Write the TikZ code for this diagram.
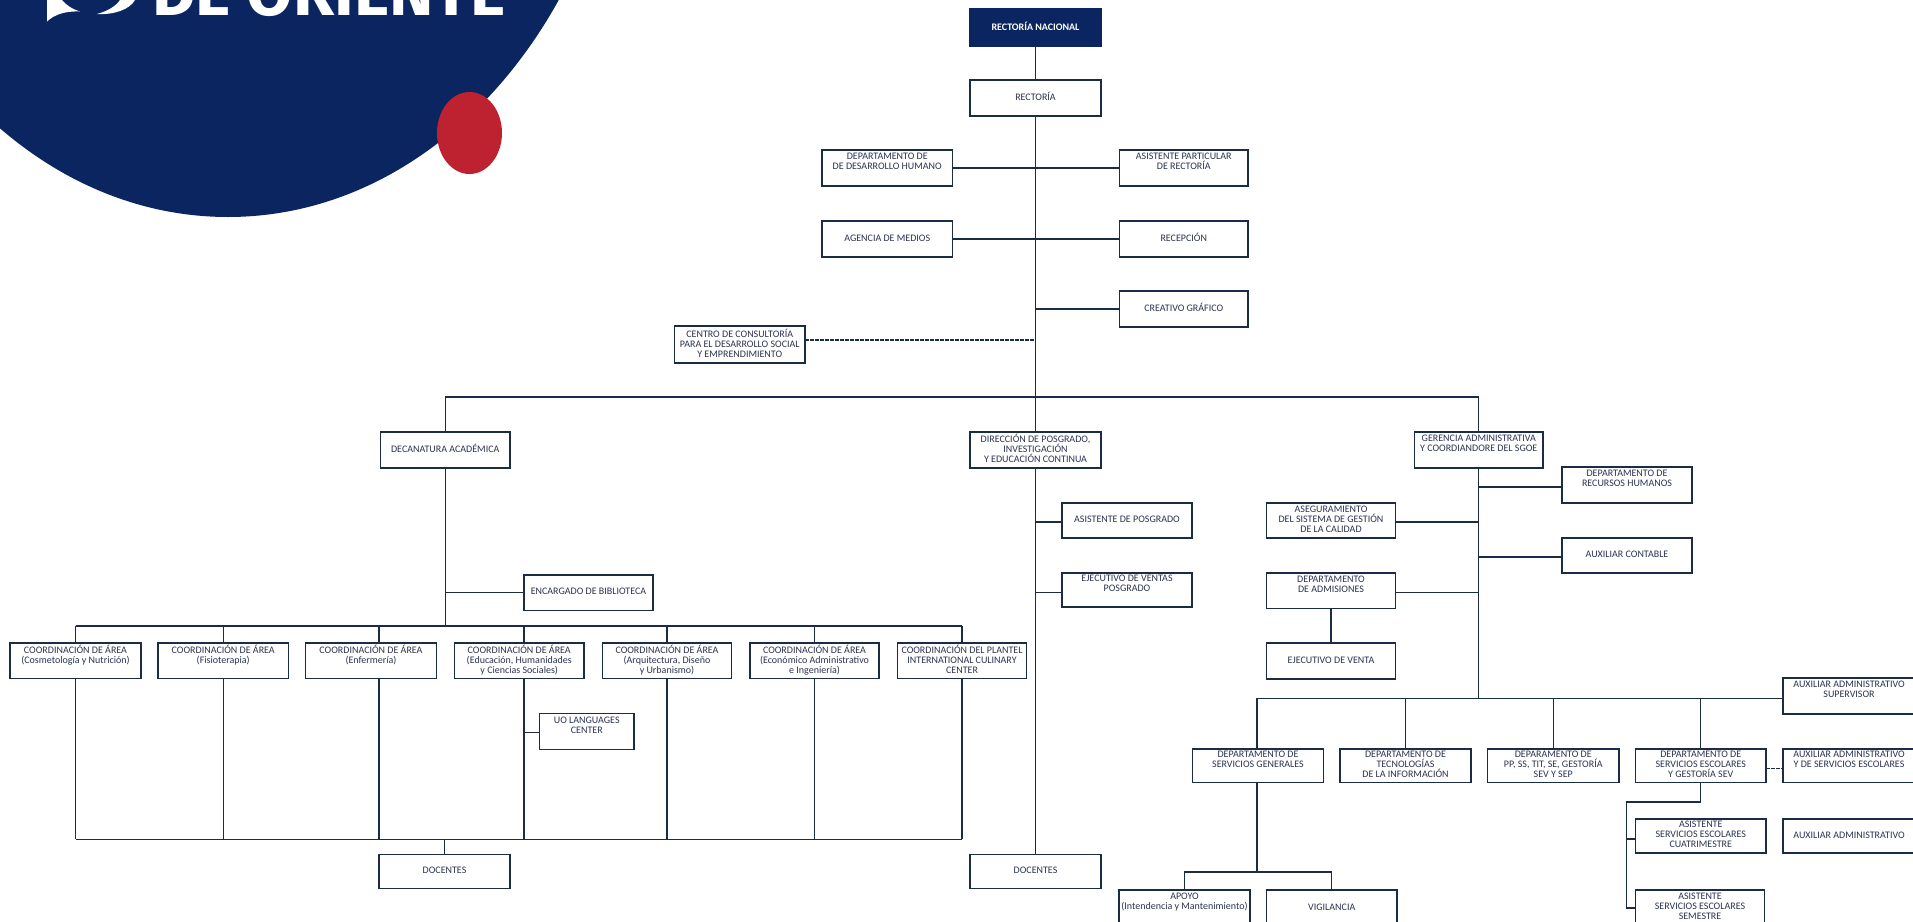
\documentclass[tikz,border=0pt]{standalone}
\usepackage{fontspec}
\setmainfont{Carlito}
\newfontfamily\logofont{Fira Sans}
\definecolor{navy}{HTML}{0B2560}
\definecolor{redlogo}{HTML}{BE2230}
\definecolor{linec}{HTML}{1C2C44}
\definecolor{textc}{HTML}{2B3350}
\tikzset{
  boxn/.style={draw=linec,line width=1.2pt,fill=white,rectangle,inner sep=0pt,outer sep=0pt,align=center,
    text=textc,font=\fontsize{10}{10}\selectfont,execute at begin node=\strut,execute at end node=\strut},
  headn/.style={boxn,draw=navy,fill=navy,text=white,font=\fontsize{10}{10}\selectfont\bfseries},
  conn/.style={draw=linec,line width=1.2pt},
  dashc/.style={draw=linec,line width=1.3pt,dashed,dash pattern=on 3.5pt off 1.5pt}
}
\newcommand\bx[6][boxn]{\node[#1,minimum width={(#4-#2)*1pt},minimum height={(#5-#3)*1pt}] (#6) at ({(#2+#4)/2},{(#3+#5)/2})}
\begin{document}
\begin{tikzpicture}[x=1pt,y=-1pt]
\path[use as bounding box] (0,0) rectangle (1913,921);
\clip (0,0) rectangle (1913,921);
% logo
\fill[navy] (228,-286) ellipse [x radius=402, y radius=503];
\fill[redlogo] (469.5,133) ellipse [x radius=32.5, y radius=41];
\fill[white] (47,0) -- (47,21.5) .. controls (55,14) and (66,11) .. (80,11.5) .. controls (72,9) and (66,5) .. (62,0) -- cycle;
\fill[white] (135,0) .. controls (130,9) and (115,15) .. (97,14) .. controls (108,11) and (116,6) .. (120,0) -- cycle;
\node[anchor=base west,inner sep=0pt,text=white,font=\logofont\bfseries\fontsize{67}{70}\selectfont] (logotext) at (152,15) {DE ORIENTE};
% boxes
\bx[headn]{970}{9}{1101}{46}{rn}{RECTORÍA NACIONAL};
\bx{970}{80}{1101}{116}{r}{RECTORÍA};
\bx{822}{150}{952.5}{186}{dh}{DEPARTAMENTO DE\\DE DESARROLLO HUMANO\\ };
\bx{1119.5}{150}{1248}{186}{ap1}{ASISTENTE PARTICULAR\\DE RECTORÍA\\ };
\bx{822}{221}{952.5}{257}{am}{AGENCIA DE MEDIOS};
\bx{1119.5}{221}{1248}{257}{rec}{RECEPCIÓN};
\bx{1119.5}{291}{1248}{327}{cg}{CREATIVO GRÁFICO};
\bx{674.5}{326}{805}{363}{cc}{CENTRO DE CONSULTORÍA\\PARA EL DESARROLLO SOCIAL\\Y EMPRENDIMIENTO};
\bx{380.5}{432}{510}{468}{dec}{DECANATURA ACADÉMICA};
\bx{970}{432}{1101}{468}{dp}{DIRECCIÓN DE POSGRADO,\\INVESTIGACIÓN\\Y EDUCACIÓN CONTINUA};
\bx{1414.5}{432}{1543}{468}{ger}{GERENCIA ADMINISTRATIVA\\Y COORDIANDORE DEL SGOE\\ };
\bx{1562}{467}{1692}{503}{rh}{DEPARTAMENTO DE\\RECURSOS HUMANOS\\ };
\bx{1062}{503}{1192}{538}{apos}{ASISTENTE DE POSGRADO};
\bx{1266.5}{503}{1395.5}{538}{sgc}{ASEGURAMIENTO\\DEL SISTEMA DE GESTIÓN\\DE LA CALIDAD};
\bx{1562}{538}{1692}{573}{ac}{AUXILIAR CONTABLE};
\bx{1062}{573}{1192}{607}{evp}{EJECUTIVO DE VENTAS\\POSGRADO\\ };
\bx{1266.5}{573}{1395.5}{608.5}{adm}{DEPARTAMENTO\\DE ADMISIONES\\ };
\bx{524}{575}{653}{610.5}{enc}{ENCARGADO DE BIBLIOTECA};
\bx{1266.5}{643}{1395.5}{679}{ev}{EJECUTIVO DE VENTA};
\bx{10}{643}{141}{678.5}{c1}{COORDINACIÓN DE ÁREA\\(Cosmetología y Nutrición)\\ };
\bx{158}{643}{288.5}{678.5}{c2}{COORDINACIÓN DE ÁREA\\(Fisioterapia)\\ };
\bx{305.5}{643}{436.5}{678.5}{c3}{COORDINACIÓN DE ÁREA\\(Enfermería)\\ };
\bx{454.5}{643}{584}{678.5}{c4}{COORDINACIÓN DE ÁREA\\(Educación, Humanidades\\y Ciencias Sociales)};
\bx{602.5}{643}{731.5}{678.5}{c5}{COORDINACIÓN DE ÁREA\\(Arquitectura, Diseño\\y Urbanismo)};
\bx{750}{643}{879}{678.5}{c6}{COORDINACIÓN DE ÁREA\\(Económico Administrativo\\e Ingeniería)};
\bx{897.5}{643}{1026.5}{678.5}{c7}{COORDINACIÓN DEL PLANTEL\\INTERNATIONAL CULINARY\\CENTER};
\bx{1783}{678}{1915}{714}{sup}{AUXILIAR ADMINISTRATIVO\\SUPERVISOR\\ };
\bx{539.5}{713.5}{634}{749.5}{uo}{UO LANGUAGES\\CENTER\\ };
\bx{1192.5}{749}{1323.5}{782.5}{sg}{DEPARTAMENTO DE\\SERVICIOS GENERALES\\ };
\bx{1340}{749}{1471}{782.5}{tec}{DEPARTAMENTO DE\\TECNOLOGÍAS\\DE LA INFORMACIÓN};
\bx{1487.5}{749}{1619}{782.5}{pp}{DEPARAMENTO DE\\PP, SS, TIT, SE, GESTORÍA\\SEV Y SEP};
\bx{1635.5}{749}{1766}{782.5}{se}{DEPARTAMENTO DE\\SERVICIOS ESCOLARES\\Y GESTORÍA SEV};
\bx{1783}{749}{1915}{782.5}{ase}{AUXILIAR ADMINISTRATIVO\\Y DE SERVICIOS ESCOLARES\\ };
\bx{1635.5}{819}{1766}{853}{cua}{ASISTENTE\\SERVICIOS ESCOLARES\\CUATRIMESTRE};
\bx{1783}{819}{1915}{853}{aa}{AUXILIAR ADMINISTRATIVO};
\bx{379}{854.5}{510}{888.5}{d1}{DOCENTES};
\bx{970}{854.5}{1101}{888.5}{d2}{DOCENTES};
\bx{1119}{890}{1250}{926}{apo}{APOYO\\(Intendencia y Mantenimiento)\\ };
\bx{1266.5}{890}{1397}{926}{vig}{VIGILANCIA};
\bx{1635.5}{890}{1764.5}{926}{sem}{ASISTENTE\\SERVICIOS ESCOLARES\\SEMESTRE};
% junctions
\coordinate (busa) at (0,397);
\coordinate (busb) at (0,626);
\coordinate (busc) at (0,839.3);
\coordinate (busd) at (0,698.3);
\coordinate (x3) at (379,0);
\coordinate (x4) at (524,0);
\coordinate (tsg) at (1257,0);
\coordinate (bsg) at (0,872);
\coordinate (bse) at (0,802);
\coordinate (xse) at (1626.3,0);
% spine
\draw[conn] (rn.south) -- (r.north);
\draw[conn] (r.south) -- (dp.north);
\draw[conn] (dh.east) -- (ap1.west);
\draw[conn] (am.east) -- (rec.west);
\draw[conn] (cg.west) -- (cg.west -| r.south);
\draw[dashc] ([yshift=4.5pt]cc.east) -- ([yshift=4.5pt]cc.east -| r.south);
\draw[conn] (dec.north) -- (dec.north |- busa) -- (ger.north |- busa) -- (ger.north);
% posgrado
\draw[conn] (dp.south) -- (d2.north);
\draw[conn] ([yshift=-1.5pt]apos.west) -- ([yshift=-1.5pt]apos.west -| dp.south);
\draw[conn] ([yshift=-2.3pt]evp.west) -- ([yshift=-2.3pt]evp.west -| dp.south);
% decanatura
\draw[conn] (dec.south) -- (dec.south |- busb);
\draw[conn] (enc.west) -- (enc.west -| dec.south);
\draw[conn] (c1.north |- busb) -- (c7.north |- busb);
\draw[conn] (c1.south |- busc) -- (c7.south |- busc);
\draw[conn] (c1.north |- busb) -- (c1.north);
\draw[conn] (c2.north |- busb) -- (c2.north);
\draw[conn] (x3 |- busb) -- (x3 |- c3.north);
\draw[conn] (x4 |- busb) -- (x4 |- c4.north);
\draw[conn] (c5.north |- busb) -- (c5.north);
\draw[conn] (c6.north |- busb) -- (c6.north);
\draw[conn] (c7.north |- busb) -- (c7.north);
\draw[conn] (c1.south) -- (c1.south |- busc);
\draw[conn] (c2.south) -- (c2.south |- busc);
\draw[conn] (x3 |- c3.south) -- (x3 |- busc);
\draw[conn] (x4 |- c4.south) -- (x4 |- busc);
\draw[conn] (c5.south) -- (c5.south |- busc);
\draw[conn] (c6.south) -- (c6.south |- busc);
\draw[conn] (c7.south) -- (c7.south |- busc);
\draw[conn] ([yshift=-1.3pt]uo.west) -- ([yshift=-1.3pt]uo.west -| x4);
\draw[conn] (d1.north) -- (d1.north |- busc);
% gerencia
\draw[conn] (ger.south) -- (ger.south |- busd);
\draw[conn] ([yshift=-2pt]rh.west) -- ([yshift=-2pt]rh.west -| ger.south);
\draw[conn] ([yshift=-1.5pt]ac.west) -- ([yshift=-1.5pt]ac.west -| ger.south);
\draw[conn] ([yshift=-1.5pt]sgc.east) -- ([yshift=-1.5pt]sgc.east -| ger.south);
\draw[conn] ([yshift=-1.8pt]adm.east) -- ([yshift=-1.8pt]adm.east -| ger.south);
\draw[conn] (adm.south) -- (ev.north);
\draw[conn] (tsg |- busd) -- (sup.west |- busd);
\draw[conn] (tsg |- busd) -- (tsg |- sg.north);
\draw[conn] (tec.north) -- (tec.north |- busd);
\draw[conn] (pp.north) -- (pp.north |- busd);
\draw[conn] (se.north) -- (se.north |- busd);
\draw[dashc] ([yshift=-2.7pt]se.east) -- ([yshift=-2.7pt]ase.west);
\draw[conn] (tsg |- sg.south) -- (tsg |- bsg);
\draw[conn] (apo.north) -- (apo.north |- bsg) -- (vig.north |- bsg) -- (vig.north);
\draw[conn] (se.south) -- (se.south |- bse) -- (xse |- bse) -- (xse |- sem.west) -- (sem.west);
\draw[conn] ([yshift=-3pt]cua.west) -- ([yshift=-3pt]cua.west -| xse);
\end{tikzpicture}
\end{document}
